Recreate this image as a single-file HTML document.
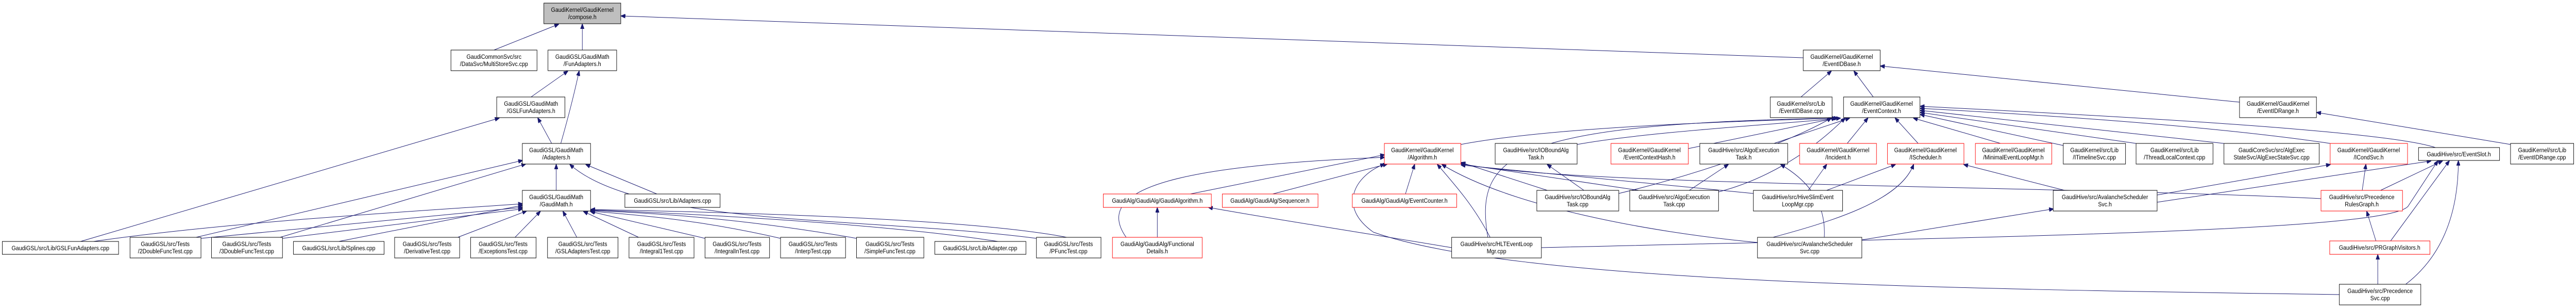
<!DOCTYPE html>
<html><head><meta charset="utf-8"><style>
html,body{margin:0;padding:0;background:#fff;width:100%;height:100%;overflow:hidden;}
svg{display:block;width:100vw;height:100vh;}
text{font-family:"Liberation Sans",sans-serif;font-size:12px;fill:#000;text-anchor:middle;}
.n{fill:#fff;stroke:#000;stroke-width:1;}
.r{fill:#fff;stroke:#ff0000;stroke-width:1;}
.g{fill:#bfbfbf;stroke:#000;stroke-width:1;}
path{fill:none;stroke:#191970;stroke-width:1;}
</style></head><body>
<svg viewBox="0 0 5627 597" preserveAspectRatio="none" xmlns="http://www.w3.org/2000/svg" overflow="hidden">
<defs><marker id="a" markerWidth="10" markerHeight="8" refX="9" refY="4" orient="auto" markerUnits="userSpaceOnUse"><polygon points="0,0 10,4 0,8" fill="#191970" stroke="#191970"/></marker></defs>
<g marker-end="url(#a)">
<path d="M1079,97 L1220,47"/>
<path d="M1272,97 L1272,47"/>
<path d="M3939,112 L1357,31"/>
<path d="M1160,188 L1240,138"/>
<path d="M1225,278 Q1250,200 1265,138"/>
<path d="M1205,278 L1175,229"/>
<path d="M176,468 L1090,229"/>
<path d="M1215,369 L1215,319"/>
<path d="M1435,376 L1280,319"/>
<path d="M428,460 L1141,311"/>
<path d="M612,460 L1148,318"/>
<path d="M2264,462 C1900,420 1400,440 1245,319"/>
<path d="M204,468 C500,430 900,410 1141,395"/>
<path d="M740,468 L1141,398"/>
<path d="M439,462 L1141,402"/>
<path d="M617,462 L1141,405"/>
<path d="M1000,460 L1150,409"/>
<path d="M1125,460 L1180,410"/>
<path d="M1260,460 L1230,410"/>
<path d="M1395,460 L1275,410"/>
<path d="M1540,462 L1290,410"/>
<path d="M1705,462 C1500,420 1350,415 1291,409"/>
<path d="M1871,462 C1600,420 1400,412 1291,408"/>
<path d="M2180,468 C1900,430 1450,412 1291,407"/>
<path d="M2330,460 C2100,420 1500,410 1291,406"/>
<path d="M3934,188 L4000,138"/>
<path d="M4092,188 L4050,138"/>
<path d="M4892,198 L4108,128"/>
<path d="M5484,280 L5061,218"/>
<path d="M3191,280 C3400,245 3800,235 4015,229"/>
<path d="M3445,280 C3600,255 3900,240 4020,229"/>
<path d="M3688,288 L4010,229"/>
<path d="M3875,278 L4040,229"/>
<path d="M4035,278 L4080,229"/>
<path d="M4190,278 L4140,229"/>
<path d="M4370,278 L4180,229"/>
<path d="M4507,282 L4195,222"/>
<path d="M4666,278 L4195,218"/>
<path d="M4858,278 L4195,214"/>
<path d="M5090,278 C4800,240 4400,220 4195,210"/>
<path d="M5320,286 C5200,250 4500,220 4195,206"/>
<path d="M3250,460 C3220,300 3300,240 4010,229"/>
<path d="M3536,375 C3700,340 3900,280 4000,229"/>
<path d="M3754,372 C3850,350 3950,300 4030,229"/>
<path d="M2600,376 L3024,300"/>
<path d="M2780,376 L3030,318"/>
<path d="M3070,376 L3090,319"/>
<path d="M2460,460 C2380,360 2600,320 3024,305"/>
<path d="M3255,460 C3220,400 3180,360 3140,319"/>
<path d="M3380,369 L3192,315"/>
<path d="M3580,369 L3192,318"/>
<path d="M5070,385 C4500,360 3400,360 3192,317"/>
<path d="M3839,470 C3600,450 3300,400 3150,319"/>
<path d="M3830,375 L3192,320"/>
<path d="M5110,571 C4200,560 3300,545 3000,450 C2920,400 2960,340 3024,318"/>
<path d="M2528,460 L2528,403"/>
<path d="M3171,480 C2900,440 2750,420 2640,402"/>
<path d="M3460,369 L3380,319"/>
<path d="M3690,369 L3775,319"/>
<path d="M3985,460 C3990,380 3930,340 3890,319"/>
<path d="M3950,369 L3990,319"/>
<path d="M3990,369 L4140,319"/>
<path d="M3860,463 C4000,430 4150,390 4180,319"/>
<path d="M4510,369 L4290,319"/>
<path d="M4067,465 L4485,405"/>
<path d="M4712,378 L5090,319"/>
<path d="M5160,369 L5168,319"/>
<path d="M4712,392 L5310,312"/>
<path d="M5200,369 L5335,312"/>
<path d="M5222,467 L5350,312"/>
<path d="M5255,551 C5330,500 5370,420 5370,312"/>
<path d="M3367,480 C4300,460 5210,450 5260,400 L5325,312"/>
<path d="M5190,467 L5170,410"/>
<path d="M5194,551 L5194,494"/>
</g>
<rect class="g" x="1188" y="6" width="168" height="40"/><text x="1272" y="23">GaudiKernel/GaudiKernel</text><text x="1272" y="37">/compose.h</text>
<rect class="n" x="985" y="97" width="188" height="40"/><text x="1079" y="114">GaudiCommonSvc/src</text><text x="1079" y="128">/DataSvc/MultiStoreSvc.cpp</text>
<rect class="n" x="1197" y="97" width="150" height="40"/><text x="1272" y="114">GaudiGSL/GaudiMath</text><text x="1272" y="128">/FunAdapters.h</text>
<rect class="n" x="1085" y="188" width="149" height="40"/><text x="1160" y="205">GaudiGSL/GaudiMath</text><text x="1160" y="219">/GSLFunAdapters.h</text>
<rect class="n" x="1141" y="278" width="149" height="40"/><text x="1215" y="295">GaudiGSL/GaudiMath</text><text x="1215" y="309">/Adapters.h</text>
<rect class="n" x="1141" y="369" width="149" height="40"/><text x="1215" y="386">GaudiGSL/GaudiMath</text><text x="1215" y="400">/GaudiMath.h</text>
<rect class="n" x="1365" y="376" width="208" height="26"/><text x="1469" y="393">GaudiGSL/src/Lib/Adapters.cpp</text>
<rect class="n" x="5" y="468" width="254" height="25"/><text x="132" y="485">GaudiGSL/src/Lib/GSLFunAdapters.cpp</text>
<rect class="n" x="284" y="460" width="155" height="40"/><text x="361" y="477">GaudiGSL/src/Tests</text><text x="361" y="491">/2DoubleFuncTest.cpp</text>
<rect class="n" x="462" y="460" width="155" height="40"/><text x="539" y="477">GaudiGSL/src/Tests</text><text x="539" y="491">/3DoubleFuncTest.cpp</text>
<rect class="n" x="641" y="468" width="198" height="25"/><text x="740" y="485">GaudiGSL/src/Lib/Splines.cpp</text>
<rect class="n" x="862" y="460" width="142" height="40"/><text x="933" y="477">GaudiGSL/src/Tests</text><text x="933" y="491">/DerivativeTest.cpp</text>
<rect class="n" x="1028" y="460" width="143" height="40"/><text x="1099" y="477">GaudiGSL/src/Tests</text><text x="1099" y="491">/ExceptionsTest.cpp</text>
<rect class="n" x="1196" y="460" width="154" height="40"/><text x="1273" y="477">GaudiGSL/src/Tests</text><text x="1273" y="491">/GSLAdaptersTest.cpp</text>
<rect class="n" x="1374" y="460" width="142" height="40"/><text x="1445" y="477">GaudiGSL/src/Tests</text><text x="1445" y="491">/Integral1Test.cpp</text>
<rect class="n" x="1540" y="460" width="141" height="40"/><text x="1610" y="477">GaudiGSL/src/Tests</text><text x="1610" y="491">/IntegralInTest.cpp</text>
<rect class="n" x="1705" y="460" width="142" height="40"/><text x="1776" y="477">GaudiGSL/src/Tests</text><text x="1776" y="491">/InterpTest.cpp</text>
<rect class="n" x="1871" y="460" width="147" height="40"/><text x="1944" y="477">GaudiGSL/src/Tests</text><text x="1944" y="491">/SimpleFuncTest.cpp</text>
<rect class="n" x="2042" y="468" width="199" height="25"/><text x="2141" y="485">GaudiGSL/src/Lib/Adapter.cpp</text>
<rect class="n" x="2264" y="460" width="141" height="40"/><text x="2334" y="477">GaudiGSL/src/Tests</text><text x="2334" y="491">/PFuncTest.cpp</text>
<rect class="r" x="2430" y="460" width="196" height="40"/><text x="2528" y="477">GaudiAlg/GaudiAlg/Functional</text><text x="2528" y="491">Details.h</text>
<rect class="r" x="2410" y="376" width="236" height="26"/><text x="2528" y="393">GaudiAlg/GaudiAlg/GaudiAlgorithm.h</text>
<rect class="r" x="2670" y="376" width="209" height="26"/><text x="2774" y="393">GaudiAlg/GaudiAlg/Sequencer.h</text>
<rect class="r" x="2954" y="376" width="228" height="26"/><text x="3068" y="393">GaudiAlg/GaudiAlg/EventCounter.h</text>
<rect class="r" x="3024" y="278" width="167" height="40"/><text x="3107" y="295">GaudiKernel/GaudiKernel</text><text x="3107" y="309">/Algorithm.h</text>
<rect class="n" x="3266" y="278" width="179" height="40"/><text x="3355" y="295">GaudiHive/src/IOBoundAlg</text><text x="3355" y="309">Task.h</text>
<rect class="r" x="3519" y="278" width="169" height="40"/><text x="3603" y="295">GaudiKernel/GaudiKernel</text><text x="3603" y="309">/EventContextHash.h</text>
<rect class="n" x="3357" y="369" width="179" height="40"/><text x="3446" y="386">GaudiHive/src/IOBoundAlg</text><text x="3446" y="400">Task.cpp</text>
<rect class="n" x="3560" y="369" width="194" height="40"/><text x="3657" y="386">GaudiHive/src/AlgoExecution</text><text x="3657" y="400">Task.cpp</text>
<rect class="n" x="3171" y="460" width="196" height="40"/><text x="3269" y="477">GaudiHive/src/HLTEventLoop</text><text x="3269" y="491">Mgr.cpp</text>
<rect class="n" x="3939" y="97" width="168" height="40"/><text x="4023" y="114">GaudiKernel/GaudiKernel</text><text x="4023" y="128">/EventIDBase.h</text>
<rect class="n" x="3867" y="188" width="135" height="40"/><text x="3934" y="205">GaudiKernel/src/Lib</text><text x="3934" y="219">/EventIDBase.cpp</text>
<rect class="n" x="4027" y="188" width="167" height="40"/><text x="4110" y="205">GaudiKernel/GaudiKernel</text><text x="4110" y="219">/EventContext.h</text>
<rect class="n" x="3713" y="278" width="192" height="40"/><text x="3809" y="295">GaudiHive/src/AlgoExecution</text><text x="3809" y="309">Task.h</text>
<rect class="r" x="3931" y="278" width="168" height="40"/><text x="4015" y="295">GaudiKernel/GaudiKernel</text><text x="4015" y="309">/Incident.h</text>
<rect class="r" x="4123" y="278" width="167" height="40"/><text x="4206" y="295">GaudiKernel/GaudiKernel</text><text x="4206" y="309">/IScheduler.h</text>
<rect class="r" x="4315" y="278" width="167" height="40"/><text x="4398" y="295">GaudiKernel/GaudiKernel</text><text x="4398" y="309">/MinimalEventLoopMgr.h</text>
<rect class="n" x="4507" y="278" width="136" height="40"/><text x="4575" y="295">GaudiKernel/src/Lib</text><text x="4575" y="309">/ITimelineSvc.cpp</text>
<rect class="n" x="3830" y="369" width="195" height="40"/><text x="3927" y="386">GaudiHive/src/HiveSlimEvent</text><text x="3927" y="400">LoopMgr.cpp</text>
<rect class="n" x="3839" y="460" width="228" height="40"/><text x="3953" y="477">GaudiHive/src/AvalancheScheduler</text><text x="3953" y="491">Svc.cpp</text>
<rect class="n" x="4485" y="369" width="227" height="40"/><text x="4598" y="386">GaudiHive/src/AvalancheScheduler</text><text x="4598" y="400">Svc.h</text>
<rect class="n" x="4892" y="188" width="168" height="40"/><text x="4976" y="205">GaudiKernel/GaudiKernel</text><text x="4976" y="219">/EventIDRange.h</text>
<rect class="n" x="4666" y="278" width="168" height="40"/><text x="4750" y="295">GaudiKernel/src/Lib</text><text x="4750" y="309">/ThreadLocalContext.cpp</text>
<rect class="n" x="4858" y="278" width="208" height="40"/><text x="4962" y="295">GaudiCoreSvc/src/AlgExec</text><text x="4962" y="309">StateSvc/AlgExecStateSvc.cpp</text>
<rect class="r" x="5090" y="278" width="169" height="40"/><text x="5174" y="295">GaudiKernel/GaudiKernel</text><text x="5174" y="309">/ICondSvc.h</text>
<rect class="n" x="5283" y="286" width="177" height="25"/><text x="5371" y="303">GaudiHive/src/EventSlot.h</text>
<rect class="n" x="5484" y="278" width="138" height="40"/><text x="5553" y="295">GaudiKernel/src/Lib</text><text x="5553" y="309">/EventIDRange.cpp</text>
<rect class="r" x="5070" y="369" width="178" height="40"/><text x="5159" y="386">GaudiHive/src/Precedence</text><text x="5159" y="400">RulesGraph.h</text>
<rect class="r" x="5089" y="467" width="219" height="26"/><text x="5198" y="484">GaudiHive/src/PRGraphVisitors.h</text>
<rect class="n" x="5110" y="551" width="178" height="40"/><text x="5199" y="568">GaudiHive/src/Precedence</text><text x="5199" y="582">Svc.cpp</text>
</svg>
</body></html>
